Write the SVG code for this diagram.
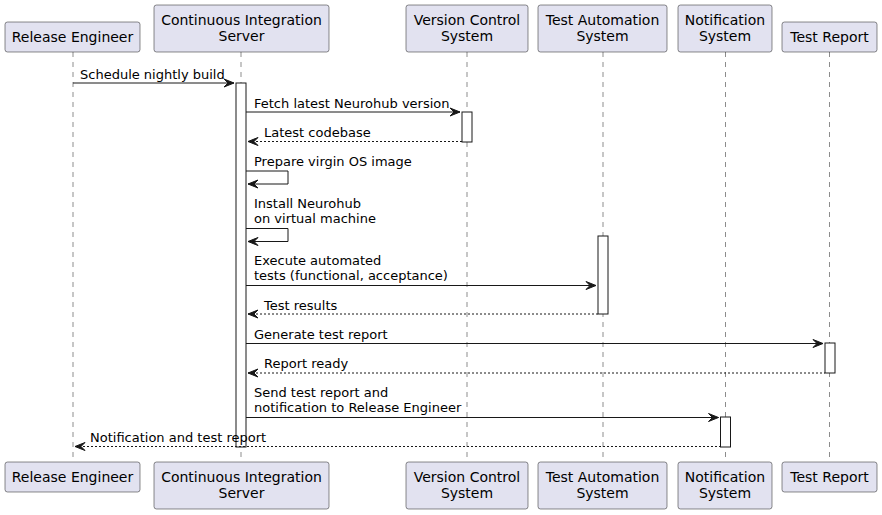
<svg xmlns="http://www.w3.org/2000/svg" width="882" height="515" viewBox="0 0 882 515">
<style>
.box{fill:#E2E2F0;stroke:#181818;stroke-width:0.5}
.life{stroke:#181818;stroke-width:0.5;stroke-dasharray:5,5;fill:none}
.act{fill:#FFFFFF;stroke:#181818;stroke-width:1}
.msg{stroke:#181818;stroke-width:1;fill:none}
.ret{stroke:#181818;stroke-width:1;stroke-dasharray:2,2;fill:none}
.head{fill:#181818;stroke:#181818;stroke-width:1}
.pt{font-family:"DejaVu Sans",Verdana,sans-serif;font-size:14px;fill:#000000;text-anchor:middle}
.mt{font-family:"DejaVu Sans",Verdana,sans-serif;font-size:13px;fill:#000000}
</style>
<rect width="882" height="515" fill="#FFFFFF"/>
<g id="lifelines">
<line class="life" x1="73" y1="52" x2="73" y2="462"/>
<line class="life" x1="241" y1="52" x2="241" y2="462"/>
<line class="life" x1="467" y1="52" x2="467" y2="462"/>
<line class="life" x1="603" y1="52" x2="603" y2="462"/>
<line class="life" x1="725.5" y1="52" x2="725.5" y2="462"/>
<line class="life" x1="829.5" y1="52" x2="829.5" y2="462"/>
</g>
<g id="participant-release-engineer">
<rect class="box" x="5" y="22" width="135" height="30" rx="2.5"/>
<text class="pt" x="72.5" y="41.5">Release Engineer</text>
<rect class="box" x="5" y="462" width="135" height="30" rx="2.5"/>
<text class="pt" x="72.5" y="481.5">Release Engineer</text>
</g>
<g id="participant-ci-server">
<rect class="box" x="154" y="5" width="175" height="47" rx="2.5"/>
<text class="pt" x="241.5" y="24.5">Continuous Integration</text>
<text class="pt" x="241.5" y="41">Server</text>
<rect class="box" x="154" y="462" width="175" height="47" rx="2.5"/>
<text class="pt" x="241.5" y="481.5">Continuous Integration</text>
<text class="pt" x="241.5" y="498">Server</text>
</g>
<g id="participant-vcs">
<rect class="box" x="406" y="5" width="122" height="47" rx="2.5"/>
<text class="pt" x="467" y="24.5">Version Control</text>
<text class="pt" x="467" y="41">System</text>
<rect class="box" x="406" y="462" width="122" height="47" rx="2.5"/>
<text class="pt" x="467" y="481.5">Version Control</text>
<text class="pt" x="467" y="498">System</text>
</g>
<g id="participant-tas">
<rect class="box" x="538" y="5" width="129" height="47" rx="2.5"/>
<text class="pt" x="602.5" y="24.5">Test Automation</text>
<text class="pt" x="602.5" y="41">System</text>
<rect class="box" x="538" y="462" width="129" height="47" rx="2.5"/>
<text class="pt" x="602.5" y="481.5">Test Automation</text>
<text class="pt" x="602.5" y="498">System</text>
</g>
<g id="participant-notification">
<rect class="box" x="678" y="5" width="94" height="47" rx="2.5"/>
<text class="pt" x="725" y="24.5">Notification</text>
<text class="pt" x="725" y="41">System</text>
<rect class="box" x="678" y="462" width="94" height="47" rx="2.5"/>
<text class="pt" x="725" y="481.5">Notification</text>
<text class="pt" x="725" y="498">System</text>
</g>
<g id="participant-test-report">
<rect class="box" x="782" y="22" width="95" height="30" rx="2.5"/>
<text class="pt" x="829.5" y="41.5">Test Report</text>
<rect class="box" x="782" y="462" width="95" height="30" rx="2.5"/>
<text class="pt" x="829.5" y="481.5">Test Report</text>
</g>
<g id="activations">
<rect class="act" x="236" y="83" width="10" height="364"/>
<rect class="act" x="462" y="112" width="10" height="30"/>
<rect class="act" x="598" y="236" width="10" height="78"/>
<rect class="act" x="825" y="343" width="10" height="30"/>
<rect class="act" x="720.5" y="417" width="10" height="30"/>
</g>
<g id="connectors">
<line class="msg" x1="73" y1="83" x2="234" y2="83"/>
<polygon class="head" points="224,79 234,83 224,87 228,83"/>
<text class="mt" x="80" y="79">Schedule nightly build</text>

<line class="msg" x1="246" y1="112" x2="460" y2="112"/>
<polygon class="head" points="450,108 460,112 450,116 454,112"/>
<text class="mt" x="254" y="108">Fetch latest Neurohub version</text>

<line class="ret" x1="248" y1="141.5" x2="462" y2="141.5"/>
<polygon class="head" points="258,137.5 248,141.5 258,145.5 254,141.5"/>
<text class="mt" x="264" y="137">Latest codebase</text>

<polyline class="msg" points="246,171 288,171 288,184 248,184"/>
<polygon class="head" points="258,180 248,184 258,188 254,184"/>
<text class="mt" x="254" y="166">Prepare virgin OS image</text>

<polyline class="msg" points="246,228.5 288,228.5 288,241.5 248,241.5"/>
<polygon class="head" points="258,237.5 248,241.5 258,245.5 254,241.5"/>
<text class="mt" x="254" y="208">Install Neurohub</text>
<text class="mt" x="254" y="223">on virtual machine</text>

<line class="msg" x1="246" y1="285.5" x2="596" y2="285.5"/>
<polygon class="head" points="586,281.5 596,285.5 586,289.5 590,285.5"/>
<text class="mt" x="254" y="265">Execute automated</text>
<text class="mt" x="254" y="280">tests (functional, acceptance)</text>

<line class="ret" x1="248" y1="314" x2="598" y2="314"/>
<polygon class="head" points="258,310 248,314 258,318 254,314"/>
<text class="mt" x="264" y="309.5">Test results</text>

<line class="msg" x1="246" y1="343.5" x2="823" y2="343.5"/>
<polygon class="head" points="813,339.5 823,343.5 813,347.5 817,343.5"/>
<text class="mt" x="254" y="338.5">Generate test report</text>

<line class="ret" x1="248" y1="373" x2="825" y2="373"/>
<polygon class="head" points="258,369 248,373 258,377 254,373"/>
<text class="mt" x="264" y="368">Report ready</text>

<line class="msg" x1="246" y1="417.5" x2="718.5" y2="417.5"/>
<polygon class="head" points="708.5,413.5 718.5,417.5 708.5,421.5 712.5,417.5"/>
<text class="mt" x="254" y="397">Send test report and</text>
<text class="mt" x="254" y="412">notification to Release Engineer</text>

<line class="ret" x1="75" y1="446.5" x2="720.5" y2="446.5"/>
<polygon class="head" points="85,442.5 75,446.5 85,450.5 81,446.5"/>
<text class="mt" x="90" y="441.5">Notification and test report</text>
</g>
</svg>
